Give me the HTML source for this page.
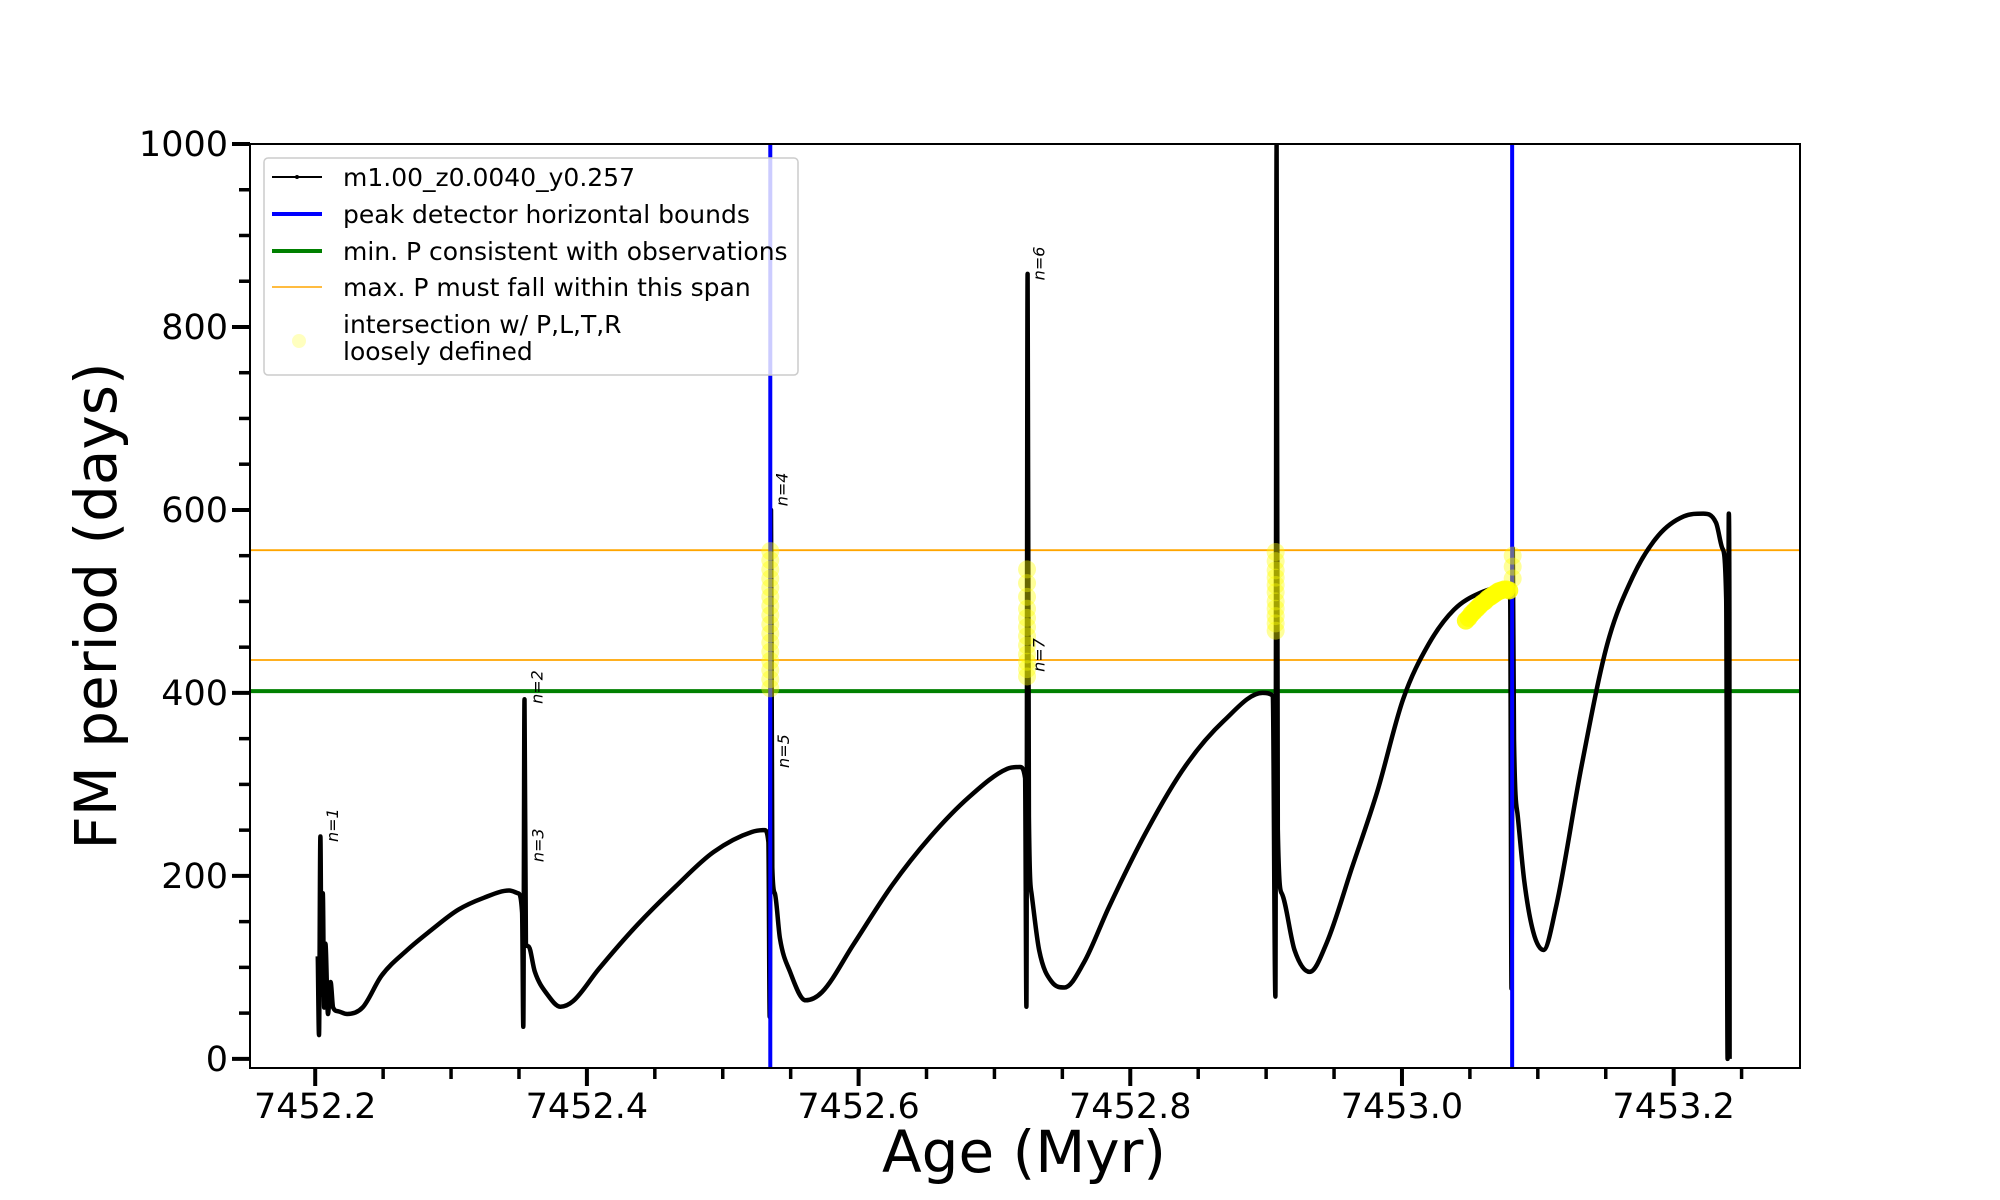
<!DOCTYPE html>
<html><head><meta charset="utf-8"><style>
html,body{margin:0;padding:0;background:#fff;}
svg{display:block;font-family:"DejaVu Sans","Liberation Sans",sans-serif;}
</style></head><body>
<svg id="chart" width="2000" height="1200" viewBox="0 0 2000 1200" xmlns="http://www.w3.org/2000/svg">
<rect x="0" y="0" width="2000" height="1200" fill="#fff"/>
<g id="plot"></g>
<text x="100" y="606" font-size="58" text-anchor="middle" dominant-baseline="middle" transform="rotate(-90 100 606)">FM period (days)</text>
<text x="1024" y="1172" font-size="58" text-anchor="middle">Age (Myr)</text>
<g>
<rect x="264" y="158" width="534" height="217" rx="4" fill="#fff" fill-opacity="0.8" stroke="#ccc" stroke-width="1.5"/>
<line x1="272" y1="177" x2="322" y2="177" stroke="#000" stroke-width="2"/>
<circle cx="297" cy="177" r="2" fill="#000"/>
<text x="343" y="186" font-size="25">m1.00_z0.0040_y0.257</text>
<line x1="272" y1="214" x2="322" y2="214" stroke="#0000ff" stroke-width="4"/>
<text x="343" y="223" font-size="25">peak detector horizontal bounds</text>
<line x1="272" y1="251" x2="322" y2="251" stroke="#008000" stroke-width="4"/>
<text x="343" y="260" font-size="25">min. P consistent with observations</text>
<line x1="272" y1="287" x2="322" y2="287" stroke="orange" stroke-width="1.5"/>
<text x="343" y="296" font-size="25">max. P must fall within this span</text>
<circle cx="299" cy="341" r="7" fill="#ffff00" fill-opacity="0.25"/>
<text x="343" y="333" font-size="25">intersection w/ P,L,T,R</text>
<text x="343" y="360" font-size="25">loosely defined</text>
</g>
</svg>
<script>
const ages = [7452.2019,7452.2028,7452.2038,7452.2047,7452.2056,7452.2066,7452.2075,7452.2094,7452.2113,7452.2132,7452.2169,7452.2235,7452.2348,7452.2489,7452.2677,7452.2865,7452.3053,7452.3241,7452.3429,7452.3494,7452.3523,7452.3532,7452.3541,7452.3551,7452.3570,7452.3617,7452.3711,7452.3805,7452.3898,7452.4086,7452.4368,7452.4650,7452.4932,7452.5214,7452.5308,7452.5336,7452.5346,7452.5355,7452.5365,7452.5383,7452.5421,7452.5496,7452.5609,7452.5731,7452.5966,7452.6248,7452.6530,7452.6812,7452.7094,7452.7188,7452.7226,7452.7235,7452.7244,7452.7254,7452.7273,7452.7329,7452.7423,7452.7515,7452.7658,7452.7846,7452.8128,7452.8410,7452.8692,7452.8974,7452.9049,7452.9068,7452.9077,7452.9086,7452.9115,7452.9209,7452.9321,7452.9444,7452.9632,7452.9820,7453.0008,7453.0195,7453.0383,7453.0571,7453.0759,7453.0797,7453.0806,7453.0816,7453.0825,7453.0853,7453.0900,7453.0966,7453.1042,7453.1135,7453.1323,7453.1511,7453.1699,7453.1887,7453.2075,7453.2218,7453.2312,7453.2359,7453.2387,7453.2397,7453.2406,7453.2410,7453.2412];
const periods = [112,26,243,70,181,56,126,49,84,56,52,49,56,91,119,142,163,176,184,181,160,35,393,126,123,95,70,57,63,98,146,188,226,248,250,237,46,600,209,181,132,95,64,73,126,190,243,286,317,319,307,57,858,265,181,119,84,78,105,167,251,321,370,400,397,68,1000,251,181,119,95,126,209,293,393,453,491,509,516,502,77,558,349,265,195,139,119,167,321,453,527,572,593,596,586,558,502,0,596,488,0];
const yellowAges = [7452.5350,7452.5350,7452.5350,7452.5350,7452.5350,7452.5350,7452.5350,7452.5350,7452.5350,7452.5350,7452.5350,7452.5350,7452.5350,7452.5350,7452.5350,7452.5350,7452.7240,7452.7240,7452.7240,7452.7240,7452.7240,7452.7240,7452.7240,7452.7240,7452.7240,7452.7240,7452.7240,7452.7240,7452.9070,7452.9070,7452.9070,7452.9070,7452.9070,7452.9070,7452.9070,7452.9070,7452.9070,7452.9070,7452.9070,7453.0815,7453.0815,7453.0815];
const yellowPeriods = [405,415,425,435,445,455,465,475,485,495,505,515,525,535,545,555,418,426,434,442,452,462,472,482,492,505,520,535,468,476,484,492,500,510,518,526,534,544,554,525,538,550];
const trailAges = [7453.0470,7453.0490,7453.0510,7453.0530,7453.0550,7453.0570,7453.0590,7453.0610,7453.0630,7453.0650,7453.0670,7453.0690,7453.0710,7453.0730,7453.0750,7453.0770,7453.0790];
const trailPeriods = [479,482,486,489,492,495,498,500,503,505,507,509,511,512,513,513,512];
const minP = [402];
const maxPSpan = [436, 556];
const peakBounds = [7452.5350, 7453.0811];
const xTicks = [7452.2,7452.4,7452.6,7452.8,7453.0,7453.2];
const xTickLabels = ["7452.2","7452.4","7452.6","7452.8","7453.0","7453.2"];
const yTicks = [0,200,400,600,800,1000];
const yTickLabels = ["0","200","400","600","800","1000"];
const annotLabels = ["n=1","n=2","n=3","n=4","n=5","n=6","n=7"];
const annotAges = [7452.2169,7452.3673,7452.3682,7452.5477,7452.5487,7452.7367,7452.7367];
const annotPeriods = [237,388,215,604,318,851,423];

const L=250,R=1800,T=144,B=1068;
const X0=7452.152,X1=7453.293,Y0=-10,Y1=1000;
const xs=v=>L+(v-X0)/(X1-X0)*(R-L);
const ys=v=>B-(v-Y0)/(Y1-Y0)*(B-T);
const NS="http://www.w3.org/2000/svg";
const svg=document.getElementById('chart');
const plot=document.getElementById('plot');
function mk(tag,attrs,parent){const e=document.createElementNS(NS,tag);for(const k in attrs)e.setAttribute(k,attrs[k]);(parent||plot).appendChild(e);return e;}
const clip=mk('clipPath',{id:'clip'},svg);
mk('rect',{x:L,y:T,width:R-L,height:B-T},clip);
const g=mk('g',{'clip-path':'url(#clip)'});



maxPSpan.forEach((v,i)=>{const l=mk('line',{x1:L,x2:R,y1:ys(v),y2:ys(v),stroke:'orange','stroke-width':1.8},g);

});
minP.forEach(v=>{const l=mk('line',{x1:L,x2:R,y1:ys(v),y2:ys(v),stroke:'#008000','stroke-width':4},g);

});

// monotone cubic path (Fritsch-Carlson) for smooth rendering
function monoPath(X,Y){const n=X.length;const d=[],m=new Array(n);
for(let i=0;i<n-1;i++)d.push((Y[i+1]-Y[i])/(X[i+1]-X[i]));
m[0]=d[0];m[n-1]=d[n-2];
for(let i=1;i<n-1;i++){m[i]=(d[i-1]*d[i]<=0)?0:(d[i-1]+d[i])/2;}
for(let i=0;i<n-1;i++){if(d[i]===0){m[i]=0;m[i+1]=0;continue;}
const a=m[i]/d[i],b=m[i+1]/d[i],s=a*a+b*b;if(s>9){const t=3/Math.sqrt(s);m[i]=t*a*d[i];m[i+1]=t*b*d[i];}}
let p='M'+X[0].toFixed(1)+','+Y[0].toFixed(1);
for(let i=0;i<n-1;i++){const h=(X[i+1]-X[i])/3;
p+=' C'+(X[i]+h).toFixed(1)+','+(Y[i]+m[i]*h).toFixed(1)+' '+(X[i+1]-h).toFixed(1)+','+(Y[i+1]-m[i+1]*h).toFixed(1)+' '+X[i+1].toFixed(1)+','+Y[i+1].toFixed(1);}
return p;}
const PX=ages.map(xs),PY=periods.map(ys);
const pl=mk('path',{d:monoPath(PX,PY),fill:'none',stroke:'#000','stroke-width':4.5,'stroke-linejoin':'round'},g);



peakBounds.forEach((v,i)=>{const l=mk('line',{x1:xs(v),x2:xs(v),y1:T,y2:B,stroke:'#0000ff','stroke-width':4},g);

});

yellowAges.forEach((a,i)=>{const c=mk('circle',{cx:xs(a),cy:ys(yellowPeriods[i]),r:9,fill:'#ffff00','fill-opacity':0.4},g);

});
trailAges.forEach((a,i)=>{const c=mk('circle',{cx:xs(a),cy:ys(trailPeriods[i]),r:9,fill:'#ffff00','fill-opacity':0.85},g);

});

annotLabels.forEach((t,i)=>{const x=xs(annotAges[i]),y=ys(annotPeriods[i]);
const e=mk('text',{x:x,y:y,'font-size':16,'font-style':'italic',transform:`rotate(-90 ${x} ${y})`},g);
e.textContent=t;

});

const fr=mk('rect',{x:L,y:T,width:R-L,height:B-T,fill:'none',stroke:'#000','stroke-width':2});



for(let k=0;k<=22;k++){const v=7452.15+k*0.05;if(v<X0||v>X1)continue;
const major=xTicks.some(t=>Math.abs(t-v)<1e-6);const x=xs(v);
const tk=mk('line',{x1:x,x2:x,y1:B,y2:B+(major?18:11),stroke:'#000','stroke-width':major?4:3.5});

}
xTicks.forEach((v,i)=>{const e=mk('text',{x:xs(v),y:1118,'font-size':35,'text-anchor':'middle'});e.textContent=xTickLabels[i];

});
for(let v=0;v<=1000;v+=50){const major=v%200===0;const y=ys(v);
const tk=mk('line',{x1:L-(major?18:11),x2:L,y1:y,y2:y,stroke:'#000','stroke-width':major?4:3.5});

}
yTicks.forEach((v,i)=>{const e=mk('text',{x:228,y:ys(v)+12,'font-size':35,'text-anchor':'end'});e.textContent=yTickLabels[i];

});
</script>
</body></html>
